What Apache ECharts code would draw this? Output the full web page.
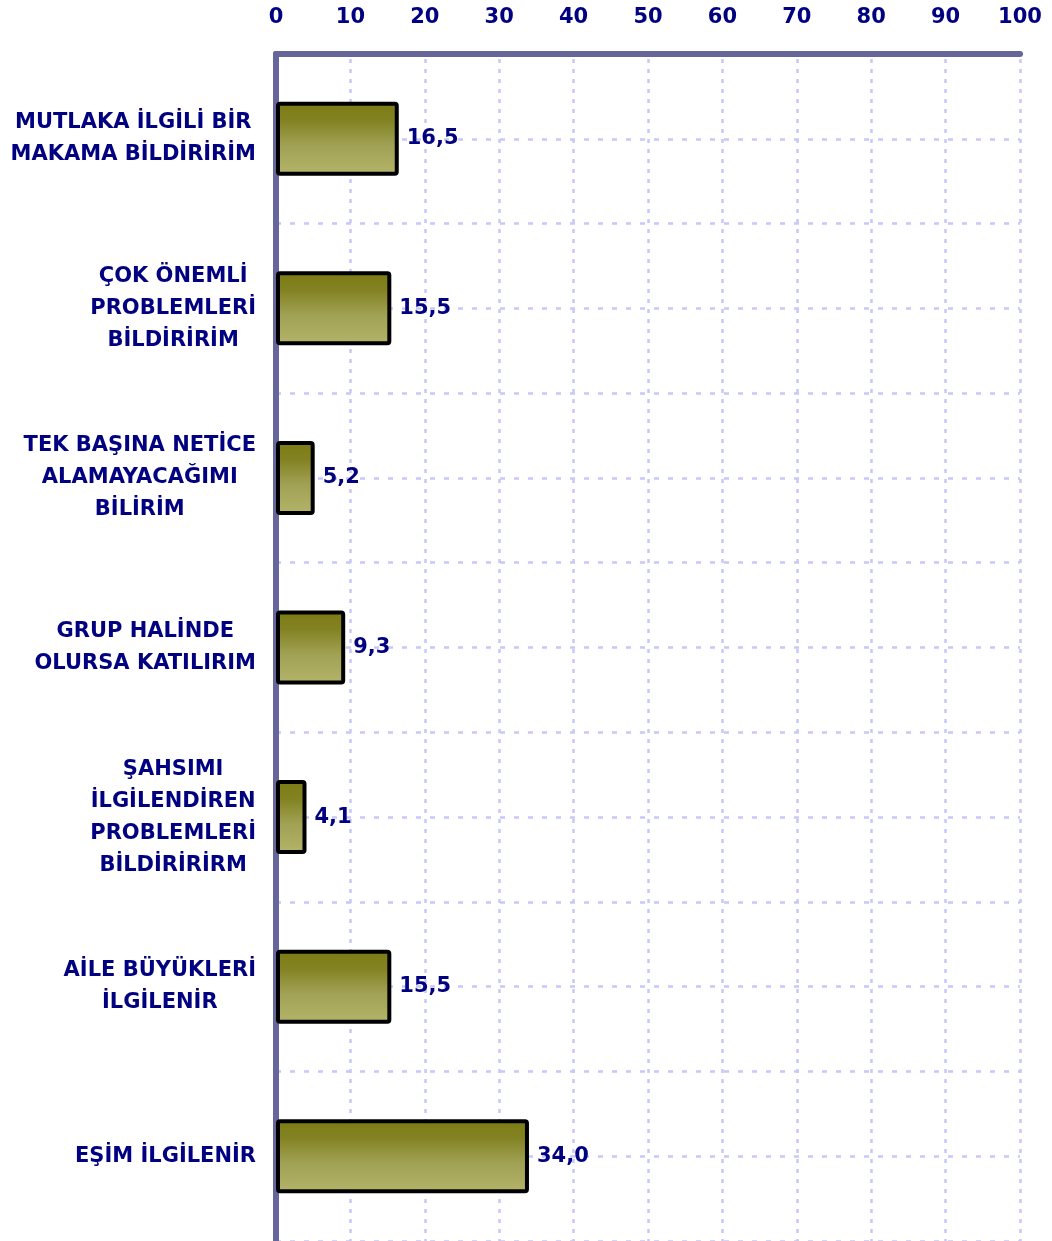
<!DOCTYPE html>
<html>
<head>
<meta charset="utf-8">
<script src="https://cdn.jsdelivr.net/npm/echarts@6/dist/echarts.min.js"></script>
<style>
  html, body { margin: 0; padding: 0; background: #fff; }
  #main { width: 1052px; height: 1241px; }
</style>
</head>
<body>
<div id="main"></div>
<script>
// categories, top to bottom
var categories = [
    'MUTLAKA İLGİLİ BİR\nMAKAMA BİLDİRİRİM',
    'ÇOK ÖNEMLİ\nPROBLEMLERİ\nBİLDİRİRİM',
    'TEK BAŞINA NETİCE\nALAMAYACAĞIMI\nBİLİRİM',
    'GRUP HALİNDE\nOLURSA KATILIRIM',
    'ŞAHSIMI\nİLGİLENDİREN\nPROBLEMLERİ\nBİLDİRİRİRM',
    'AİLE BÜYÜKLERİ\nİLGİLENİR',
    'EŞİM İLGİLENİR'
];
var values = [16.5, 15.5, 5.2, 9.3, 4.1, 15.5, 34.0];
var axisMin = 0, axisMax = 100, axisStep = 10;

// helper axis with two slots per category -> grid lines at band edges and centres
var halfSlots = [];
categories.forEach(function () { halfSlots.push('', ''); });

var navy = '#000080';
var axisColor = '#66669a';
var gridColor = '#c8c8fa';
var font = 'DejaVu Sans';

var myChart = echarts.init(document.getElementById('main'));
myChart.setOption({
    animation: false,
    grid: { left: 276, right: 32, top: 54, bottom: 0, containLabel: false },
    xAxis: {
        type: 'value',
        position: 'top',
        min: axisMin,
        max: axisMax,
        interval: axisStep,
        axisLine: { show: true, lineStyle: { color: axisColor, width: 6, cap: 'round' } },
        axisTick: { show: false },
        axisLabel: { color: navy, fontFamily: font, fontWeight: 'bold', fontSize: 21, margin: 26 },
        splitLine: { show: true, lineStyle: { color: gridColor, width: 2.5, type: [4, 6], dashOffset: -15 } }
    },
    yAxis: [
        {
            type: 'category',
            inverse: true,
            data: categories,
            axisLine: { show: true, onZero: false, lineStyle: { color: axisColor, width: 6, cap: 'round' } },
            axisTick: { show: false },
            splitLine: { show: false },
            axisLabel: {
                margin: 20,
                formatter: function (v) {
                    return v.split('\n').map(function (s) { return '{c|' + s + '}'; }).join('\n');
                },
                rich: {
                    c: { color: navy, fontFamily: font, fontWeight: 'bold', fontSize: 21, lineHeight: 32, align: 'center' }
                }
            }
        },
        {
            type: 'category',
            inverse: true,
            data: halfSlots,
            axisLine: { show: false },
            axisTick: { show: false },
            axisLabel: { show: false },
            splitLine: { show: true, interval: 0, lineStyle: { color: gridColor, width: 2.5, type: [5, 9] } }
        }
    ],
    series: [
        {
            type: 'bar',
            yAxisIndex: 0,
            data: values,
            barWidth: 74,
            z: 3,
            itemStyle: {
                borderColor: '#000',
                borderWidth: 4,
                borderRadius: 2,
                color: {
                    type: 'linear', x: 0, y: 0, x2: 0, y2: 1,
                    colorStops: [
                        { offset: 0, color: '#7c7c14' },
                        { offset: 0.25, color: '#828222' },
                        { offset: 0.6, color: '#a2a256' },
                        { offset: 1, color: '#b4b46a' }
                    ]
                }
            },
            label: {
                show: true,
                position: 'right',
                distance: 8,
                color: navy,
                fontFamily: font,
                fontWeight: 'bold',
                fontSize: 21,
                formatter: function (p) { return p.value.toFixed(1).replace('.', ','); }
            }
        }
    ]
});
</script>
</body>
</html>
